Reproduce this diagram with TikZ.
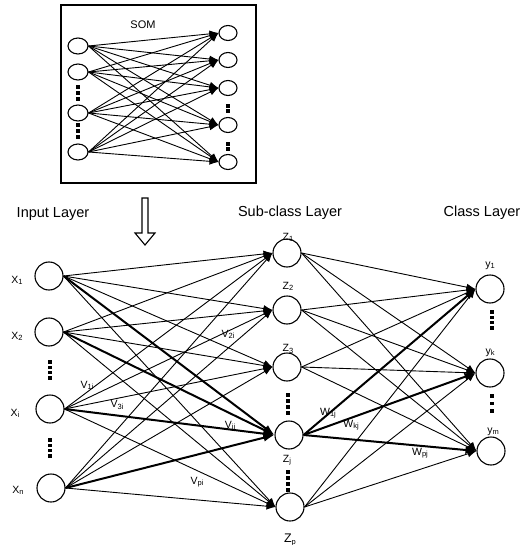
\documentclass[tikz,border=0pt]{standalone}
\usepackage{fontspec}
\setmainfont{Liberation Sans}
\usetikzlibrary{arrows.meta,shapes.geometric}
\newcommand\sbs[1]{\raisebox{-1.2pt}{\fontsize{7.5}{8}\selectfont #1}}
\begin{document}
\begin{tikzpicture}[x=1pt,y=-1pt,
  neuron/.style={circle,draw,line width=1.1pt,minimum size=28pt,inner sep=0pt},
  sneuron/.style={ellipse,draw,line width=1.1pt,minimum width=20pt,minimum height=16pt,inner sep=0pt},
  conn/.style={line width=0.9pt,-{Latex[length=9pt,width=7pt]}},
  thickconn/.style={line width=2pt,-{Latex[length=11pt,width=8pt]}},
  lab/.style={font=\fontsize{10.5}{11}\selectfont,inner sep=0pt},
  head/.style={font=\fontsize{14.5}{17}\selectfont,inner sep=0pt},
]
\useasboundingbox (0,0) rectangle (531,545);
% SOM box
\draw[line width=1.1pt] (61,5) rectangle (256,183);
\node[inner sep=0pt,font=\fontsize{11}{12}\selectfont] (somlab) at (143,25) {SOM};
\node[sneuron] (s1) at (78,46) {};
\node[sneuron] (s2) at (78,72) {};
\node[sneuron] (s3) at (78,113) {};
\node[sneuron] (s4) at (78,152) {};
\node[sneuron,minimum width=18pt,minimum height=15pt] (t1) at (228,33) {};
\node[sneuron,minimum width=18pt,minimum height=15pt] (t2) at (228,60) {};
\node[sneuron,minimum width=18pt,minimum height=15pt] (t3) at (228,88) {};
\node[sneuron,minimum width=18pt,minimum height=15pt] (t4) at (228,125) {};
\node[sneuron,minimum width=18pt,minimum height=15pt] (t5) at (228,162) {};
\foreach \s in {s1,s2,s3,s4}
  \foreach \t in {t1,t2,t3,t4,t5}
    \draw[conn] (\s.east) -- (\t.west);
\foreach \yy in {87,93,99,125,131,137} \fill (76.4,\yy-1.6) rectangle (79.6,\yy+1.6);
\foreach \yy in {106,111,144,149} \fill (226.4,\yy-1.6) rectangle (229.6,\yy+1.6);
% hollow arrow
\draw[line width=1.1pt] (142,198) -- (148,198) -- (148,233) -- (155,233) -- (145,245) -- (135,233) -- (142,233) -- cycle;
% headings
\node[head] (hin) at (53,214) {Input Layer};
\node[head] (hsub) at (290,213) {Sub-class Layer};
\node[head] (hcl) at (482,213) {Class Layer};
% input layer
\node[neuron] (x1) at (49,276) {};
\node[neuron] (x2) at (49,332) {};
\node[neuron] (xi) at (50,409) {};
\node[neuron] (xn) at (51,488) {};
\node[lab] (lx1) at (17,280) {X\sbs{1}};
\node[lab] (lx2) at (17,336) {X\sbs{2}};
\node[lab] (lxi) at (15,413) {X\sbs{i}};
\node[lab] (lxn) at (18,490) {X\sbs{n}};
\foreach \yy in {362,367.3,372.6,378,440,445.3,450.6,456} \fill (48.4,\yy-1.7) rectangle (51.8,\yy+1.7);
% sub-class layer
\node[neuron] (z1) at (287,253) {};
\node[neuron] (z2) at (287,310) {};
\node[neuron] (z3) at (287,367) {};
\node[neuron] (zj) at (289,435) {};
\node[neuron] (zp) at (290,507) {};
\node[lab] (lz1) at (288,237) {Z\sbs{1}};
\node[lab] (lz2) at (288,286) {Z\sbs{2}};
\node[lab] (lz3) at (288,349) {Z\sbs{3}};
\node[lab] (lzj) at (287,460) {Z\sbs{j}};
\node[lab,font=\fontsize{12.5}{13}\selectfont] (lzp) at (290,540) {Z\sbs{p}};
\foreach \yy in {395,401,407,413,472,478,484,490} \fill (286.3,\yy-1.7) rectangle (289.7,\yy+1.7);
% class layer
\node[neuron] (y1) at (490,289) {};
\node[neuron] (yk) at (490,373) {};
\node[neuron] (ym) at (491,451) {};
\node[lab] (ly1) at (490,266) {y\sbs{1}};
\node[lab] (lyk) at (490,353) {y\sbs{k}};
\node[lab] (lym) at (493,432) {y\sbs{m}};
\foreach \yy in {312,317.3,322.6,328,396,403.5,411} \fill (490.3,\yy-1.7) rectangle (493.7,\yy+1.7);
% input -> sub-class connections
\foreach \s in {x1,x2,xi,xn}
  \foreach \t in {z1,z2,z3,zp}
    \draw[conn] (\s.east) -- (\t.west);
\foreach \s in {x1,x2,xi,xn}
  \draw[thickconn] (\s.east) -- (zj.west);
% sub-class -> class connections
\foreach \s in {z1,z2,z3,zp}
  \foreach \t in {y1,yk,ym}
    \draw[conn] (\s.east) -- (\t.west);
\foreach \t in {y1,yk,ym}
  \draw[thickconn] (zj.east) -- (\t.west);
% weight labels
\node[lab] (v1i) at (87,385) {V\sbs{1i}};
\node[lab] (v3i) at (117,405) {V\sbs{3i}};
\node[lab] (v2i) at (228,334) {V\sbs{2i}};
\node[lab] (vji) at (230,426) {V\sbs{ji}};
\node[lab] (vpi) at (197,482) {V\sbs{pi}};
\node[lab] (w1j) at (328,413) {W\sbs{1j}};
\node[lab] (wkj) at (351,425) {W\sbs{kj}};
\node[lab] (wpj) at (420,453) {W\sbs{pj}};
\end{tikzpicture}
\end{document}
